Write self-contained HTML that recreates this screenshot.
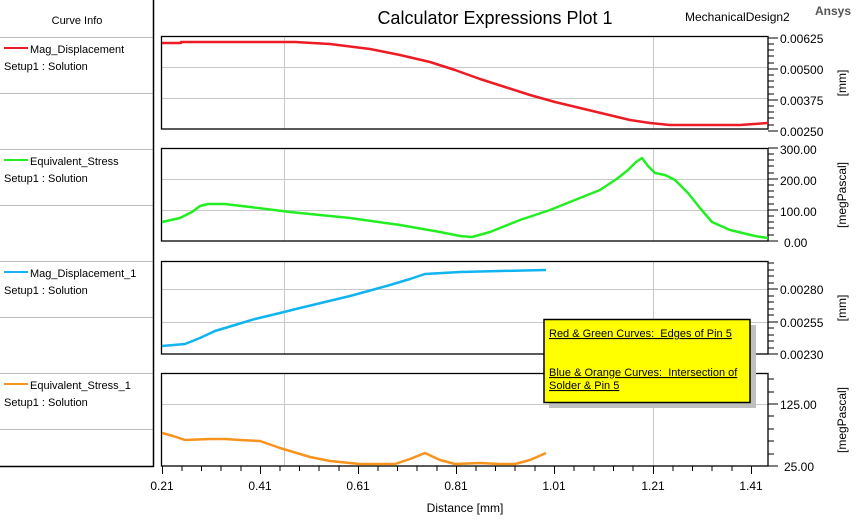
<!DOCTYPE html>
<html><head><meta charset="utf-8"><style>
html,body{margin:0;padding:0;background:#fff;}
svg{display:block;font-family:"Liberation Sans",Arial,sans-serif;}
</style></head><body>
<svg width="860" height="520" viewBox="0 0 860 520" xmlns="http://www.w3.org/2000/svg">
<rect width="860" height="520" fill="#fff"/>
<g stroke="#c0c0c0" stroke-width="1">
<line x1="0" y1="37.5" x2="153" y2="37.5"/>
<line x1="0" y1="93.5" x2="153" y2="93.5"/>
<line x1="0" y1="149.5" x2="153" y2="149.5"/>
<line x1="0" y1="205.5" x2="153" y2="205.5"/>
<line x1="0" y1="261.5" x2="153" y2="261.5"/>
<line x1="0" y1="317.5" x2="153" y2="317.5"/>
<line x1="0" y1="373.5" x2="153" y2="373.5"/>
<line x1="0" y1="429.5" x2="153" y2="429.5"/>
</g>
<line x1="153.5" y1="0" x2="153.5" y2="467" stroke="#000" stroke-width="1.5"/>
<line x1="0" y1="466.5" x2="154" y2="466.5" stroke="#000" stroke-width="1.5"/>
<text x="77" y="24" font-size="11" text-anchor="middle" fill="#000">Curve Info</text>
<g font-size="11" fill="#000">
<line x1="4" y1="48" x2="28" y2="48" stroke="#ed1c24" stroke-width="2"/>
<text x="30" y="53">Mag_Displacement</text><text x="4" y="70">Setup1 : Solution</text>
<line x1="4" y1="160" x2="28" y2="160" stroke="#22ee22" stroke-width="2"/>
<text x="30" y="165">Equivalent_Stress</text><text x="4" y="182">Setup1 : Solution</text>
<line x1="4" y1="272" x2="28" y2="272" stroke="#0fb4f0" stroke-width="2"/>
<text x="30" y="277">Mag_Displacement_1</text><text x="4" y="294">Setup1 : Solution</text>
<line x1="4" y1="384" x2="28" y2="384" stroke="#f7941d" stroke-width="2"/>
<text x="30" y="389">Equivalent_Stress_1</text><text x="4" y="406">Setup1 : Solution</text>
</g>
<text x="495" y="24" font-size="18" text-anchor="middle" fill="#000">Calculator Expressions Plot 1</text>
<text x="685" y="21" font-size="12" fill="#000">MechanicalDesign2</text>
<text x="815" y="15" font-size="12" font-weight="bold" fill="#555">Ansys</text>
<g stroke="#c8c8c8" stroke-width="1">
<line x1="284.5" y1="36" x2="284.5" y2="129"/><line x1="653.5" y1="36" x2="653.5" y2="129"/>
<line x1="161" y1="67.5" x2="768" y2="67.5"/><line x1="161" y1="98.5" x2="768" y2="98.5"/>
<line x1="284.5" y1="148" x2="284.5" y2="241"/><line x1="653.5" y1="148" x2="653.5" y2="241"/>
<line x1="161" y1="179.5" x2="768" y2="179.5"/><line x1="161" y1="210.5" x2="768" y2="210.5"/>
<line x1="284.5" y1="261" x2="284.5" y2="354"/><line x1="653.5" y1="261" x2="653.5" y2="354"/>
<line x1="161" y1="289.5" x2="768" y2="289.5"/><line x1="161" y1="322.5" x2="768" y2="322.5"/>
<line x1="284.5" y1="373" x2="284.5" y2="466"/><line x1="653.5" y1="373" x2="653.5" y2="466"/>
<line x1="161" y1="404.5" x2="768" y2="404.5"/>
</g>
<g fill="none" stroke="#000" stroke-width="1.3">
<rect x="161.5" y="36.5" width="606.5" height="92.5"/>
<rect x="161.5" y="148.5" width="606.5" height="92.5"/>
<rect x="161.5" y="261.5" width="606.5" height="92.5"/>
<rect x="161.5" y="373.5" width="606.5" height="92.5"/>
</g>
<g stroke="#000" stroke-width="1">
<path d="M768 38h10M768 69h10M768 100h10M768 131h10M768 44h6M768 50h6M768 56h6M768 63h6M768 75h6M768 81h6M768 87h6M768 94h6M768 106h6M768 112h6M768 118h6M768 125h6"/>
<path d="M768 148h10M768 179h10M768 210h10M768 241h10M768 154h6M768 160h6M768 166h6M768 173h6M768 185h6M768 191h6M768 197h6M768 204h6M768 216h6M768 222h6M768 228h6M768 235h6"/>
<path d="M768 289h10M768 322h10M768 354h10M768 263h6M768 270h6M768 276h6M768 283h6M768 296h6M768 302h6M768 309h6M768 315h6M768 328h6M768 335h6M768 341h6M768 348h6"/>
<path d="M768 404h10M768 466h10M768 379h6M768 392h6M768 416h6M768 429h6M768 441h6M768 454h6"/>
</g>
<g font-size="12" fill="#000">
<text x="780" y="43">0.00625</text><text x="780" y="74">0.00500</text><text x="780" y="105">0.00375</text><text x="780" y="136">0.00250</text>
<text x="780" y="154">300.00</text><text x="780" y="185">200.00</text><text x="780" y="216">100.00</text><text x="784" y="247">0.00</text>
<text x="780" y="294">0.00280</text><text x="780" y="327">0.00255</text><text x="780" y="359">0.00230</text>
<text x="780" y="409">125.00</text><text x="784" y="471">25.00</text>
</g>
<g font-size="12" fill="#000" text-anchor="middle">
<text transform="translate(846,83) rotate(-90)">[mm]</text>
<text transform="translate(846,195) rotate(-90)">[megPascal]</text>
<text transform="translate(846,308) rotate(-90)">[mm]</text>
<text transform="translate(846,420) rotate(-90)">[megPascal]</text>
</g>
<g stroke="#000" stroke-width="1">
<path d="M162.5 466v8M260.5 466v8M358.5 466v8M456.5 466v8M554.5 466v8M653.5 466v8M751.5 466v8"/>
<path d="M182 466v5M201.5 466v5M221 466v5M241 466v5M280 466v5M299.5 466v5M319 466v5M339 466v5M378 466v5M397.5 466v5M417 466v5M437 466v5M476 466v5M495.5 466v5M515 466v5M535 466v5M574 466v5M594 466v5M613.5 466v5M633 466v5M673 466v5M692.5 466v5M712 466v5M732 466v5"/>
</g>
<g font-size="12" fill="#000" text-anchor="middle">
<text x="162" y="490">0.21</text><text x="260" y="490">0.41</text><text x="358" y="490">0.61</text><text x="456" y="490">0.81</text><text x="554" y="490">1.01</text><text x="653" y="490">1.21</text><text x="751" y="490">1.41</text>
<text x="465" y="512">Distance [mm]</text>
</g>
<g fill="none" stroke-width="2.5" stroke-linejoin="round">
<polyline stroke="#ed1c24" points="162,43 181,43 181,42 295,42 330,44 370,49 400,55 430,62 455,70 480,79 505,87 530,95 555,102 580,108 605,114 630,120 650,123 670,125 740,125 768,123"/>
<polyline stroke="#22ee22" points="162,222 180,218 192,212 200,206 208,204 225,204 250,207 290,212 350,218 400,225 440,232 460,236 472,237 490,232 520,220 550,210 580,198 600,190 618,178 628,170 636,162 642,158 648,166 655,173 665,175 675,180 688,193 700,208 712,222 730,230 755,236 768,238"/>
<polyline stroke="#0fb4f0" points="162,346 185,344 200,338 215,331 235,325 255,319 280,313 300,308 325,302 350,296 372,290 390,285 410,279 425,274 460,272 500,271 546,270"/>
<polyline stroke="#f7941d" points="162,433 173,436 185,440 210,439 225,439 240,440 260,441 280,448 300,454 310,457 330,461 350,463 360,464 395,464 410,459 425,453 440,460 455,464 480,463 500,464 515,464 530,460 546,453"/>
</g>
<rect x="549" y="325" width="207" height="83" fill="#c0c0c0"/>
<rect x="544" y="319.5" width="206" height="83" fill="#ffff00" stroke="#000" stroke-width="1.5"/>
<g font-size="11" fill="#000" text-decoration="underline">
<text x="549" y="337">Red &amp; Green Curves:&#160; Edges of Pin 5</text>
<text x="549" y="376">Blue &amp; Orange Curves:&#160; Intersection of</text>
<text x="549" y="389">Solder &amp; Pin 5</text>
</g>
</svg>
</body></html>
